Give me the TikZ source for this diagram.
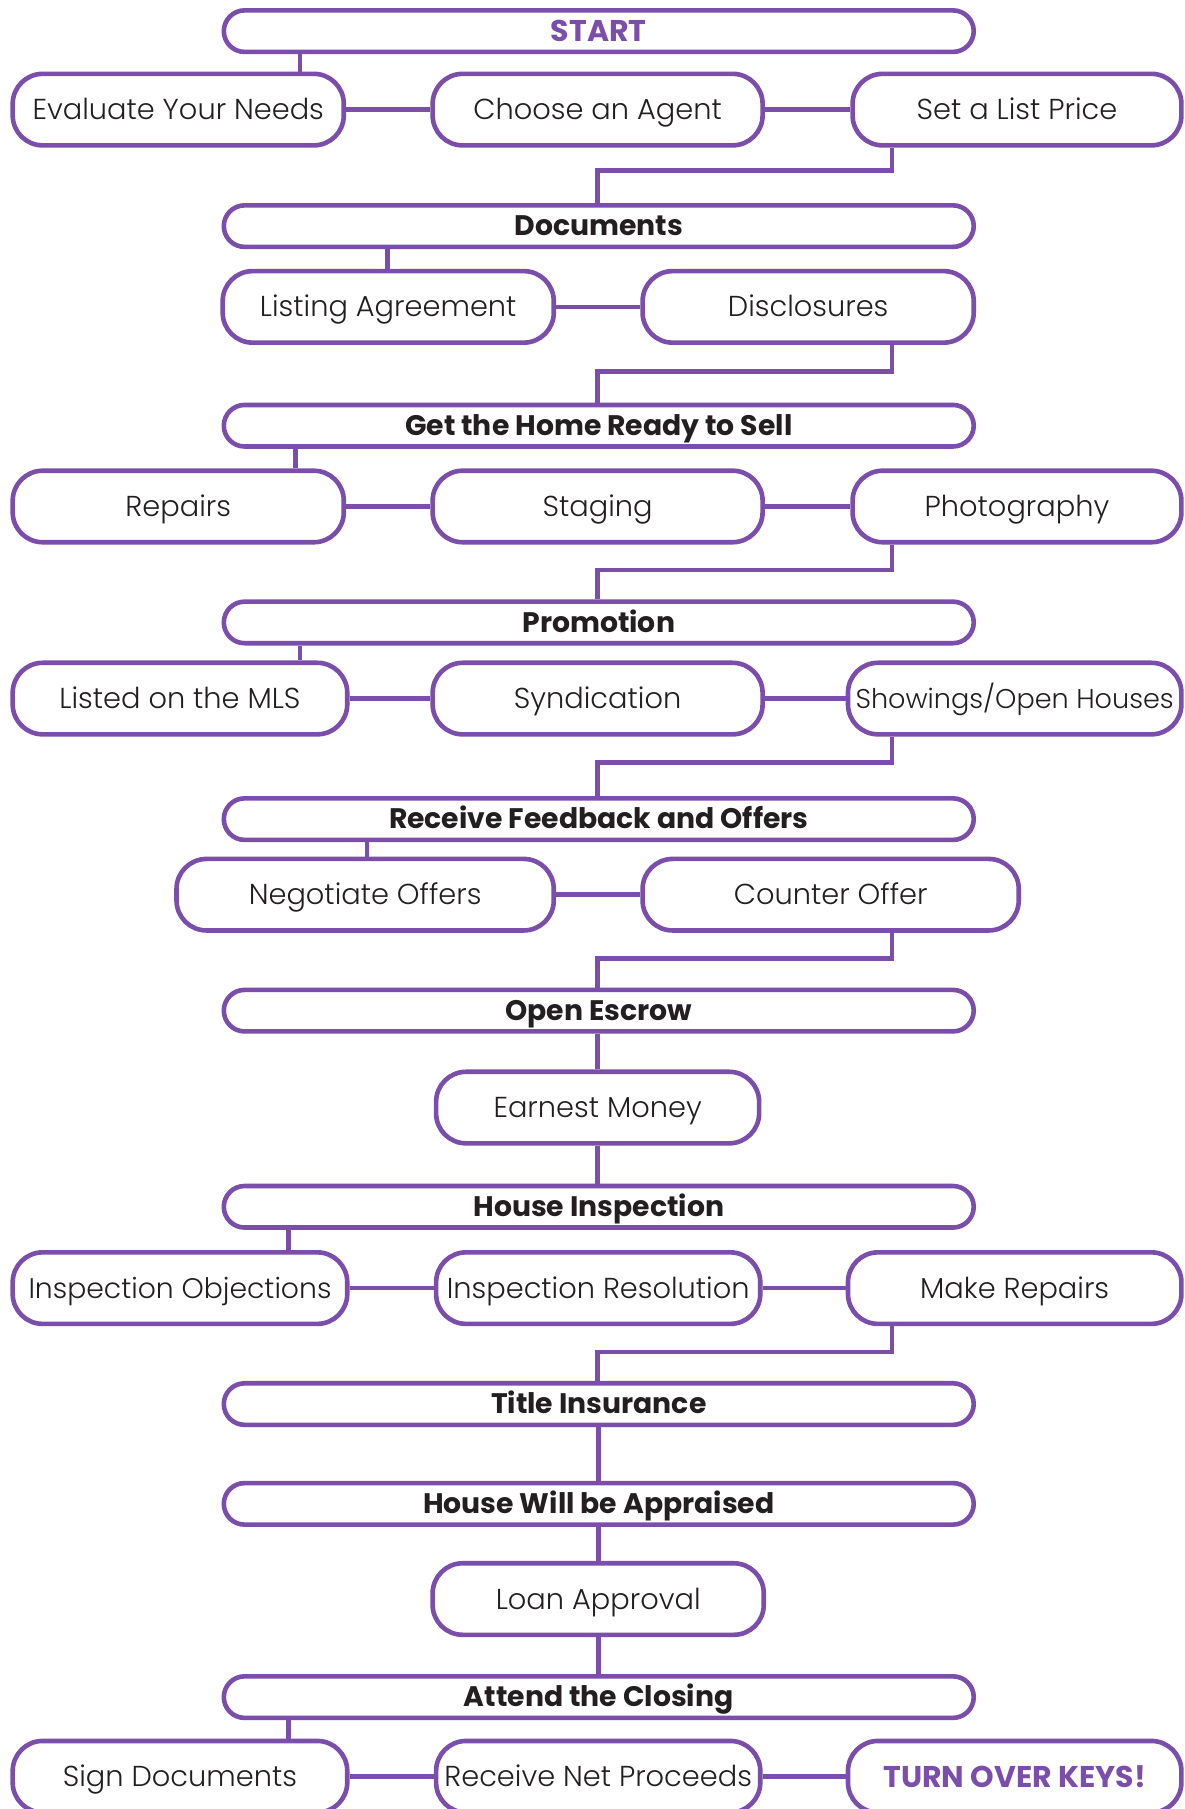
\documentclass[tikz,border=0pt]{standalone}
\usepackage{fontspec}
\setmainfont{Poppins}[UprightFont=* Light, BoldFont=* Bold]
\definecolor{purp}{RGB}{124,78,172}
\definecolor{ink}{RGB}{35,31,32}
\begin{document}
\begin{tikzpicture}[x=1pt,y=-1pt,
  hdr/.style={draw=purp, line width=4pt, fill=white, rounded corners=18pt,
    minimum width=650pt, minimum height=36pt, inner sep=0pt,
    text height=17pt, text depth=0pt,
    font=\fontsize{24.5}{28}\selectfont\bfseries, text=ink},
  box/.style={draw=purp, line width=4pt, fill=white, rounded corners=26pt,
    minimum height=62pt, inner sep=0pt,
    text height=17.5pt, text depth=0pt,
    font=\fontsize{25}{30}\selectfont, text=ink},
  hot/.style={text=purp, font=\fontsize{26}{30}\selectfont\bfseries, text height=18pt},
  conn/.style={draw=purp, line width=4pt}
]
\clip (0,0) rectangle (1027,1568);
\useasboundingbox (0,0) rectangle (1027,1568);
\fill[white] (0,0) rectangle (1027,1568);

% headers
\node[hdr, hot] (start) at (519,27) {START};
\node[hdr] (docs) at (519,196) {Documents};
\node[hdr] (ready) at (519,369) {Get the Home Ready to Sell};
\node[hdr] (promo) at (519,539.5) {Promotion};
\node[hdr] (recv) at (519,710) {Receive Feedback and Offers};
\node[hdr] (escrow) at (519,876) {Open Escrow};
\node[hdr] (inspect) at (519,1046) {House Inspection};
\node[hdr] (title) at (519,1217) {Title Insurance};
\node[hdr] (appraise) at (519,1303.5) {House Will be Appraised};
\node[hdr] (closing) at (519,1471) {Attend the Closing};

% row 1
\node[box, minimum width=287pt] (eval) at (154.5,95) {Evaluate Your Needs};
\node[box, minimum width=286pt] (choose) at (518,95) {Choose an Agent};
\node[box, minimum width=285pt] (setp) at (881.5,95) {Set a List Price};
% row 2
\node[box, minimum width=287pt] (listing) at (336.5,266) {Listing Agreement};
\node[box, minimum width=287pt] (discl) at (700.5,266) {Disclosures};
% row 3
\node[box, minimum width=287pt] (repairs) at (154.5,439) {Repairs};
\node[box, minimum width=286pt] (staging) at (518,439) {Staging};
\node[box, minimum width=285pt] (photo) at (881.5,439) {Photography};
% row 4
\node[box, minimum width=290pt] (listed) at (156,605.5) {Listed on the MLS};
\node[box, minimum width=286pt] (synd) at (518,605.5) {Syndication};
\node[box, minimum width=289pt, font=\fontsize{23.5}{28}\selectfont] (show) at (879.5,605.5) {Showings/Open Houses};
% row 5
\node[box, minimum width=327pt] (negot) at (316.5,775.5) {Negotiate Offers};
\node[box, minimum width=326pt] (counter) at (720,775.5) {Counter Offer};
% earnest
\node[box, minimum width=280pt] (earnest) at (518,960) {Earnest Money};
% row 6
\node[box, minimum width=290pt, font=\fontsize{24.5}{29}\selectfont] (objections) at (156,1116.5) {Inspection Objections};
\node[box, minimum width=281pt] (resolution) at (518.5,1116.5) {Inspection Resolution};
\node[box, minimum width=289pt] (makerep) at (879.5,1116.5) {Make Repairs};
% loan
\node[box, minimum width=287pt] (loan) at (518.5,1386) {Loan Approval};
% row 7
\node[box, minimum width=290pt] (sign) at (156,1540) {Sign Documents};
\node[box, minimum width=281pt] (proceeds) at (518.5,1540) {Receive Net Proceeds};
\node[box, minimum width=289pt, hot] (keys) at (879.5,1540) {TURN OVER KEYS!};

% connectors: header to first child
\draw[conn] (260,0 |- start.south) -- (260,0 |- eval.north);
\draw[conn] (336,0 |- docs.south) -- (336,0 |- listing.north);
\draw[conn] (256,0 |- ready.south) -- (256,0 |- repairs.north);
\draw[conn] (260,0 |- promo.south) -- (260,0 |- listed.north);
\draw[conn] (318,0 |- recv.south) -- (318,0 |- negot.north);
\draw[conn] (518,0 |- escrow.south) -- (earnest.north);
\draw[conn] (earnest.south) -- (518,0 |- inspect.north);
\draw[conn] (250,0 |- inspect.south) -- (250,0 |- objections.north);
\draw[conn] (518.5,0 |- title.south) -- (518.5,0 |- appraise.north);
\draw[conn] (518.5,0 |- appraise.south) -- (518.5,0 |- loan.north);
\draw[conn] (518.5,0 |- loan.south) -- (518.5,0 |- closing.north);
\draw[conn] (250,0 |- closing.south) -- (250,0 |- sign.north);

% horizontal links
\draw[conn] (eval) -- (choose);
\draw[conn] (choose) -- (setp);
\draw[conn] (listing) -- (discl);
\draw[conn] (repairs) -- (staging);
\draw[conn] (staging) -- (photo);
\draw[conn] (listed) -- (synd);
\draw[conn] (synd) -- (show);
\draw[conn] (negot) -- (counter);
\draw[conn] (objections) -- (resolution);
\draw[conn] (resolution) -- (makerep);
\draw[conn] (sign) -- (proceeds);
\draw[conn] (proceeds) -- (keys);

% elbow connectors to next header
\draw[conn] (setp.south -| 773,0) -- (773,148) -| (518,0 |- docs.north);
\draw[conn] (discl.south -| 773,0) -- (773,322) -| (518,0 |- ready.north);
\draw[conn] (photo.south -| 773,0) -- (773,494) -| (518,0 |- promo.north);
\draw[conn] (show.south -| 773,0) -- (773,661) -| (518,0 |- recv.north);
\draw[conn] (counter.south -| 773,0) -- (773,831) -| (518,0 |- escrow.north);
\draw[conn] (makerep.south -| 773,0) -- (773,1172) -| (518,0 |- title.north);
\end{tikzpicture}
\end{document}
